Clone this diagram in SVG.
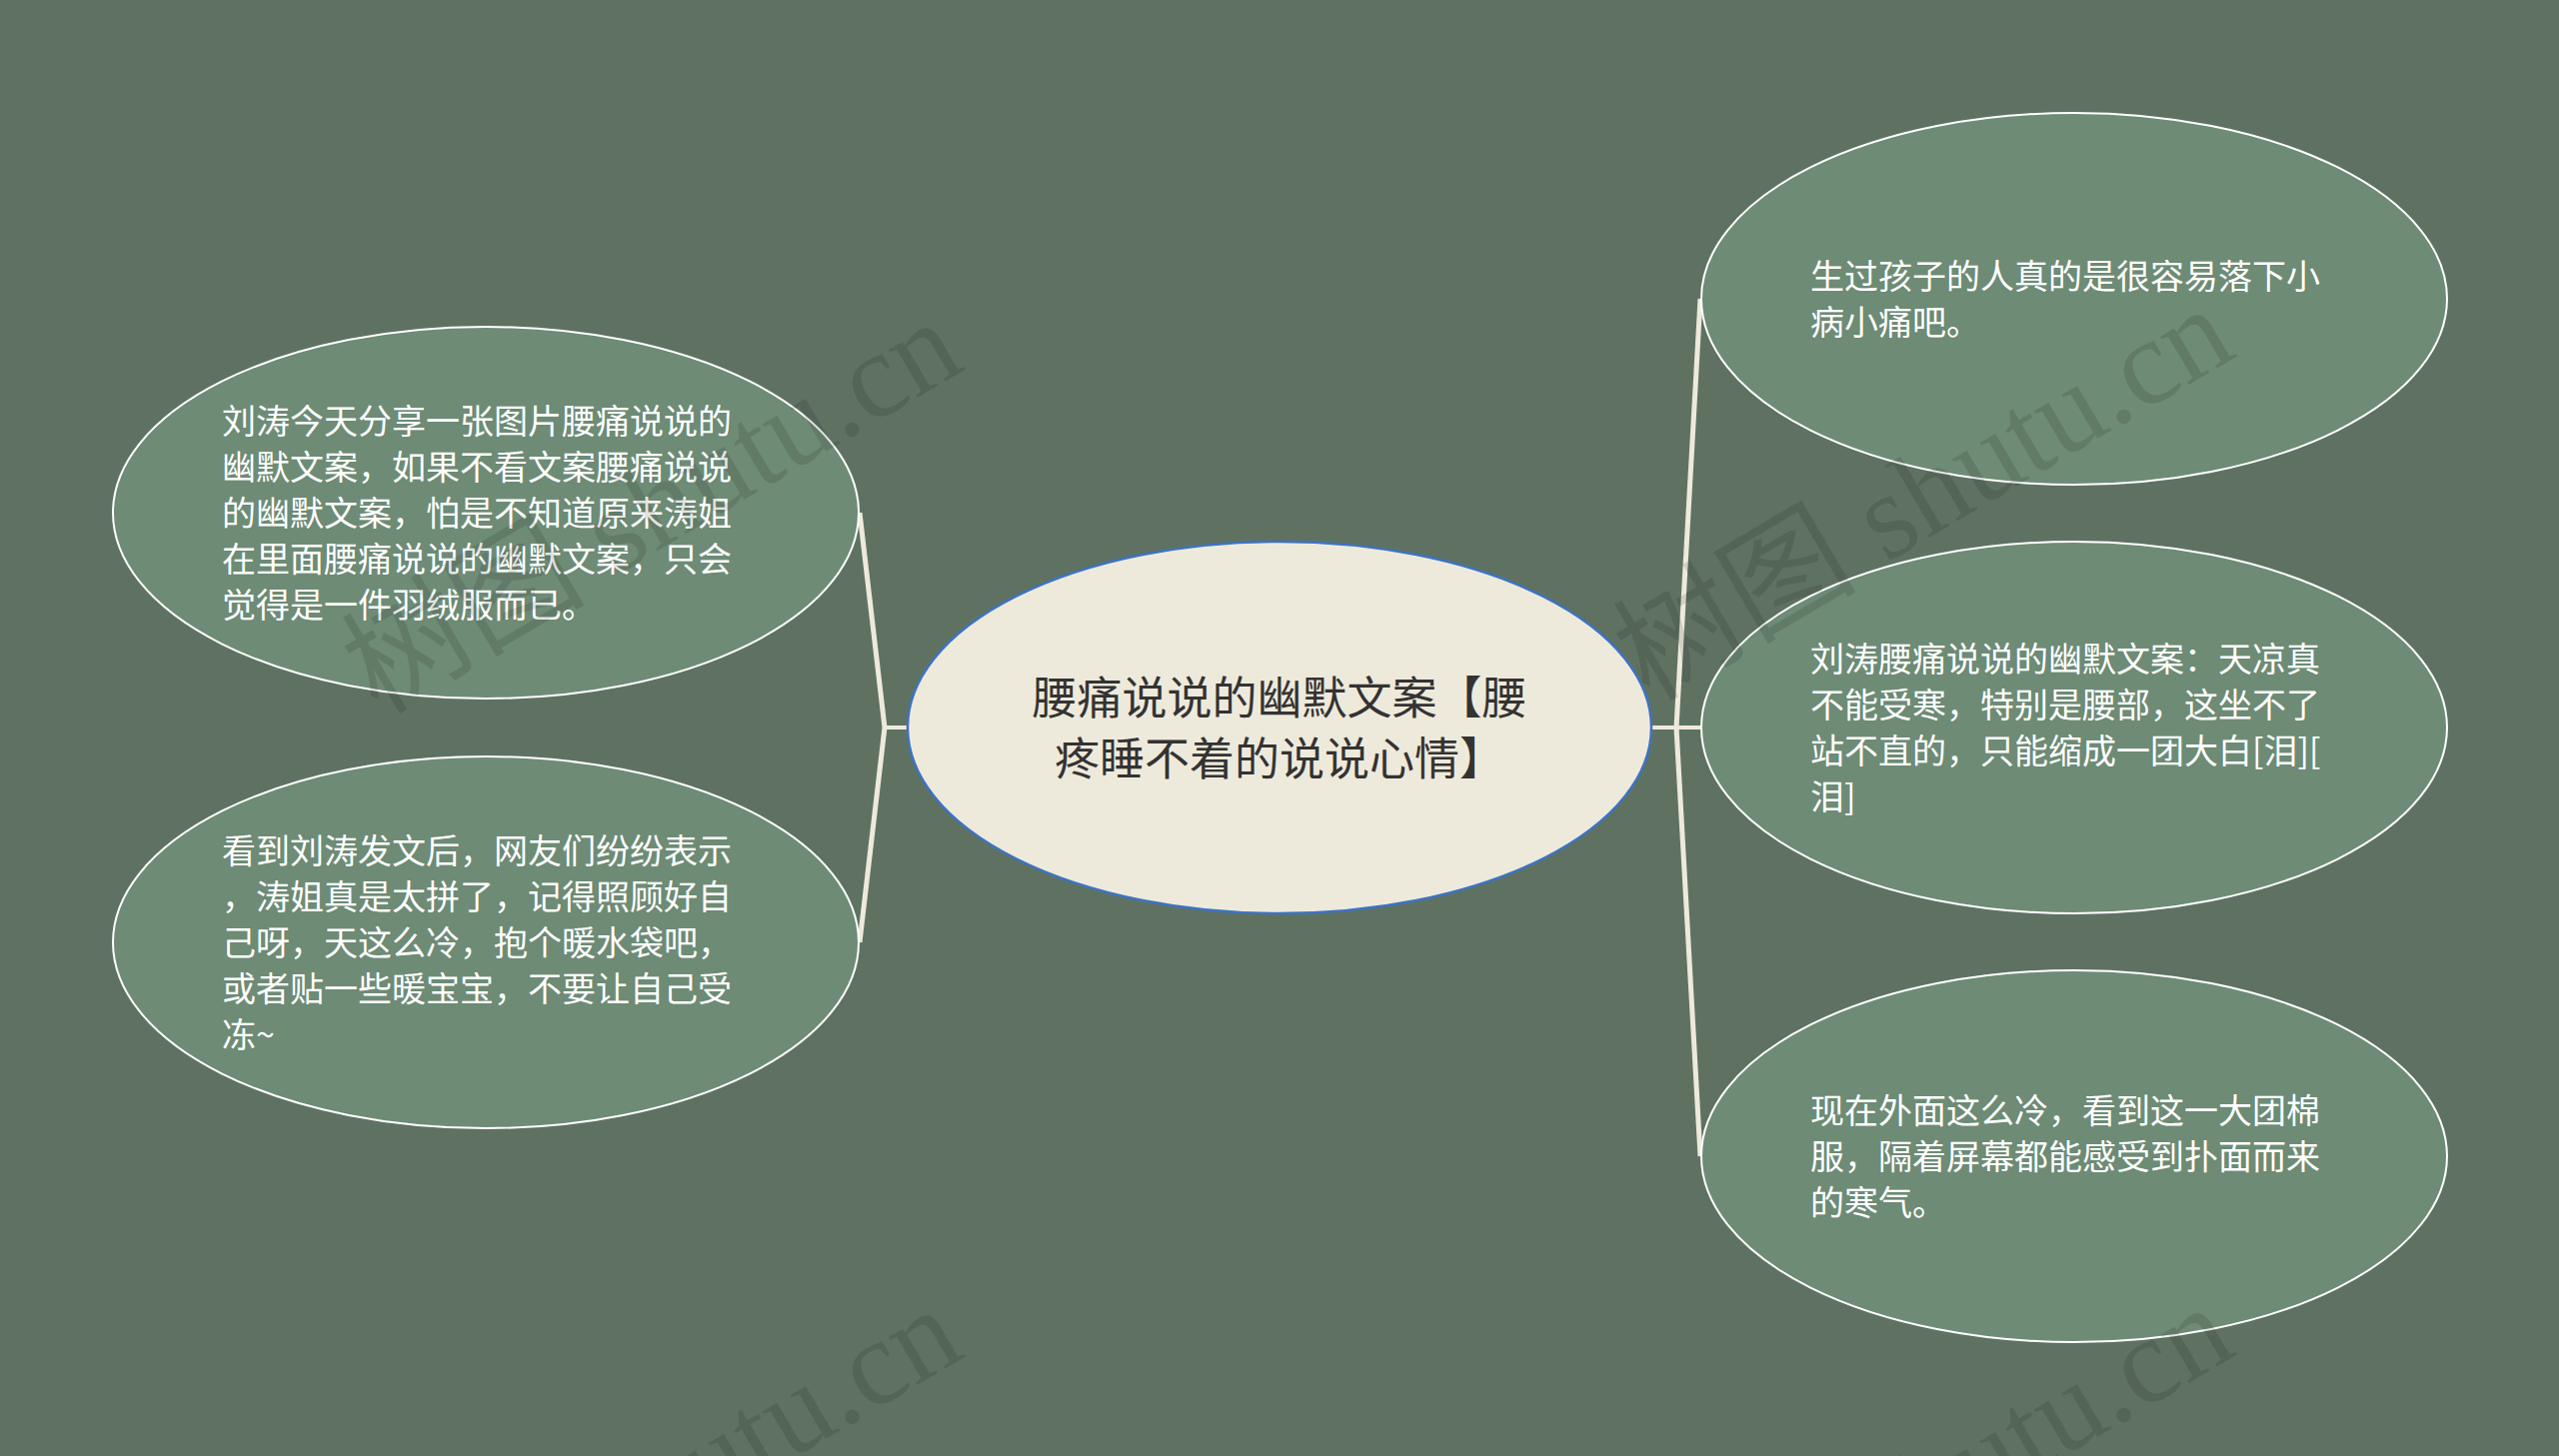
<svg xmlns="http://www.w3.org/2000/svg" width="2560" height="1457" viewBox="0 0 2560 1457">
<style>
.bg{fill:#5F7262}
.conn{fill:none;stroke:#EEEADB;stroke-width:5;stroke-linecap:butt}
.h{stroke-width:4}
.node{fill:#6D8B75;stroke:#FFFFFF;stroke-width:2}
.root{fill:#EEEADB;stroke:#3D73C2;stroke-width:2.5}
.t{font-family:"Noto Sans CJK SC","Noto Sans",sans-serif;font-size:34px;fill:#FFFFFF}
.rt{font-family:"Noto Sans CJK SC","Noto Sans",sans-serif;font-size:45px;fill:#333333;text-anchor:middle}
.wm{font-family:"Liberation Serif","Noto Sans CJK SC",serif;font-size:122px;fill:#000000;fill-opacity:0.11}
</style>
<rect class="bg" x="0" y="0" width="2560" height="1457"/>
<g id="connectors">
<path class="conn h" d="M908,728 H885"/>
<path class="conn" d="M885,728 L860,513"/>
<path class="conn" d="M885,728 L860,943"/>
<path class="conn h" d="M1652,728 H1701"/>
<path class="conn" d="M1677,728 L1701,299"/>
<path class="conn" d="M1677,728 L1701,1157"/>
</g>
<g id="root">
<ellipse class="root" cx="1280" cy="728" rx="372" ry="186"/>
<text class="rt" x="1280" y="715">腰痛说说的幽默文案【腰</text>
<text class="rt" x="1280" y="776">疼睡不着的说说心情】</text>
</g>
<g id="node-left-1">
<ellipse class="node" cx="486" cy="513" rx="373" ry="186"/>
<text class="t" x="222" y="434">刘涛今天分享一张图片腰痛说说的</text>
<text class="t" x="222" y="480">幽默文案，如果不看文案腰痛说说</text>
<text class="t" x="222" y="526">的幽默文案，怕是不知道原来涛姐</text>
<text class="t" x="222" y="572">在里面腰痛说说的幽默文案，只会</text>
<text class="t" x="222" y="618">觉得是一件羽绒服而已。</text>
</g>
<g id="node-left-2">
<ellipse class="node" cx="486" cy="943" rx="373" ry="186"/>
<text class="t" x="222" y="864">看到刘涛发文后，网友们纷纷表示</text>
<text class="t" x="222" y="910">，涛姐真是太拼了，记得照顾好自</text>
<text class="t" x="222" y="956">己呀，天这么冷，抱个暖水袋吧，</text>
<text class="t" x="222" y="1002">或者贴一些暖宝宝，不要让自己受</text>
<text class="t" x="222" y="1048">冻~</text>
</g>
<g id="node-right-1">
<ellipse class="node" cx="2075" cy="299" rx="373" ry="186"/>
<text class="t" x="1811" y="289">生过孩子的人真的是很容易落下小</text>
<text class="t" x="1811" y="335">病小痛吧。</text>
</g>
<g id="node-right-2">
<ellipse class="node" cx="2075" cy="728" rx="373" ry="186"/>
<text class="t" x="1811" y="672">刘涛腰痛说说的幽默文案：天凉真</text>
<text class="t" x="1811" y="718">不能受寒，特别是腰部，这坐不了</text>
<text class="t" x="1811" y="764">站不直的，只能缩成一团大白[泪][</text>
<text class="t" x="1811" y="810">泪]</text>
</g>
<g id="node-right-3">
<ellipse class="node" cx="2075" cy="1157" rx="373" ry="186"/>
<text class="t" x="1811" y="1124">现在外面这么冷，看到这一大团棉</text>
<text class="t" x="1811" y="1170">服，隔着屏幕都能感受到扑面而来</text>
<text class="t" x="1811" y="1216">的寒气。</text>
</g>
<g id="watermarks">
<text class="wm" transform="translate(378,716) rotate(-30.5)">树图 shutu.cn</text>
<text class="wm" transform="translate(1650,703) rotate(-30.5)">树图 shutu.cn</text>
<text class="wm" transform="translate(378,1704) rotate(-30.5)">树图 shutu.cn</text>
<text class="wm" transform="translate(1650,1702) rotate(-30.5)">树图 shutu.cn</text>
</g>
</svg>
